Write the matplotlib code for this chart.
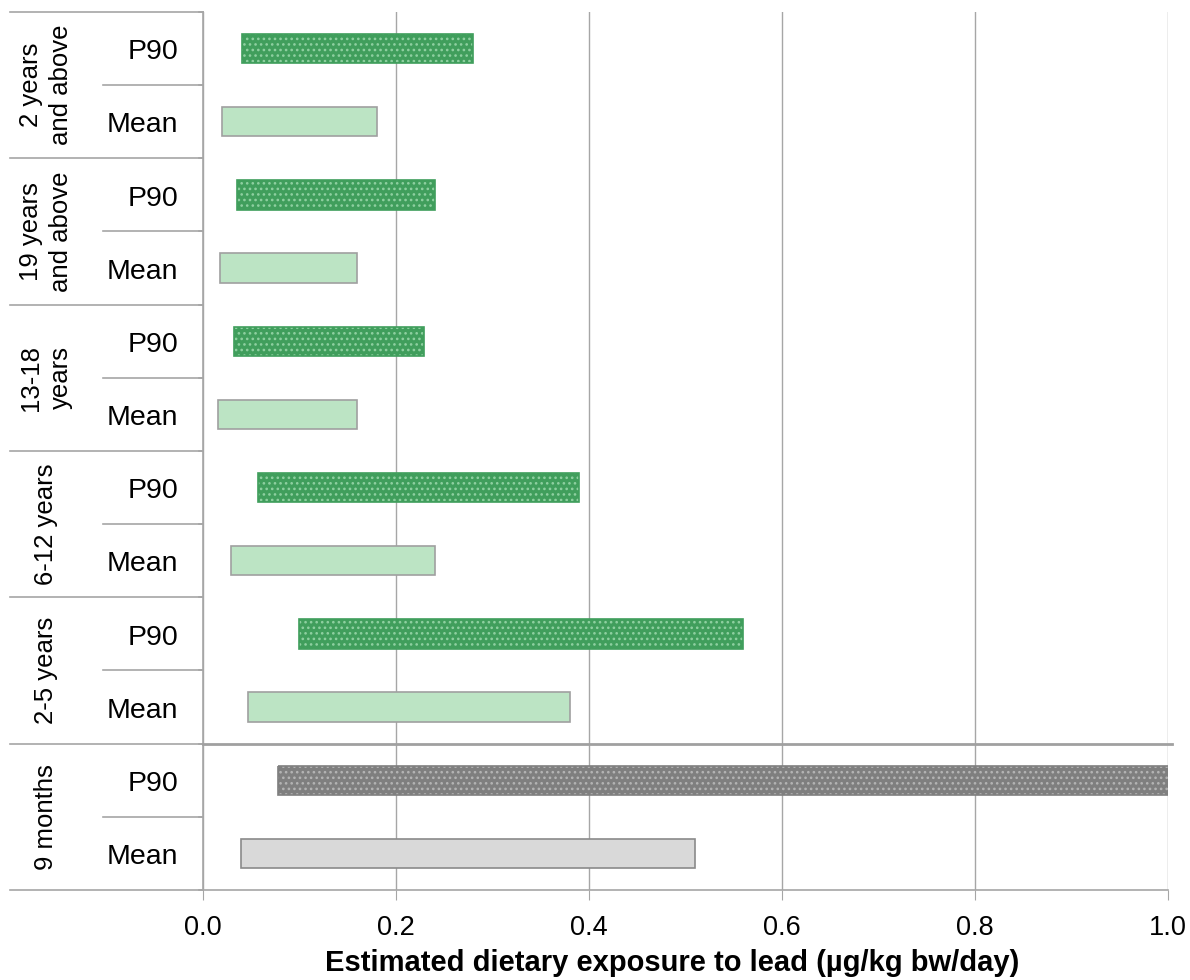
import matplotlib
matplotlib.use("Agg")
import matplotlib.pyplot as plt
from matplotlib import font_manager as fm
import matplotlib.transforms as mtransforms

# ---- data ----
groups = ["2 years\nand above", "19 years\nand above", "13-18\nyears",
          "6-12 years", "2-5 years", "9 months"]
stats = ["P90", "Mean"]
p90_low = [0.040, 0.035, 0.032, 0.057, 0.099, 0.078]
p90_high = [0.280, 0.240, 0.229, 0.390, 0.560, 1.050]
mean_low = [0.020, 0.018, 0.016, 0.029, 0.047, 0.039]
mean_high = [0.180, 0.160, 0.160, 0.240, 0.380, 0.510]
x_ticks = [0.0, 0.2, 0.4, 0.6, 0.8, 1.0]
x_label = "Estimated dietary exposure to lead (\u00b5g/kg bw/day)"

names = {f.name for f in fm.fontManager.ttflist}
base = "Liberation Sans" if "Liberation Sans" in names else "DejaVu Sans"
plt.rcParams["font.family"] = [base, "DejaVu Sans"]
plt.rcParams["hatch.linewidth"] = 1.1

fig = plt.figure(figsize=(11.9, 9.8), dpi=100)
ax = fig.add_axes([203/1190, 1-890/980, (1168-203)/1190, (890-12)/980])

n = len(groups) * 2
ax.set_ylim(n, 0)
ax.set_xlim(0, 1.0)

green_dark = "#409e5c"
green_light = "#bce4c4"
gray_dark = "#7f7f7f"
gray_light = "#d9d9d9"

h = 0.40
for gi, g in enumerate(groups):
    last = gi == len(groups) - 1
    yp = gi * 2 + 0.5
    ym = gi * 2 + 1.5
    fc_p = gray_dark if last else green_dark
    hc_p = "#b4b4b4" if last else "#8fd0a1"
    fc_m = gray_light if last else green_light
    ec_m = "#8a8a8a" if last else "#a0a0a0"
    # P90 bar with dotted hatch
    ax.barh(yp, p90_high[gi] - p90_low[gi], left=p90_low[gi], height=h,
            color=fc_p, edgecolor=hc_p, hatch="...", linewidth=0, zorder=3)
    ax.barh(yp, p90_high[gi] - p90_low[gi], left=p90_low[gi], height=h,
            facecolor="none", edgecolor=fc_p, linewidth=1.2, zorder=4)
    # Mean bar
    ax.barh(ym, mean_high[gi] - mean_low[gi], left=mean_low[gi], height=h,
            color=fc_m, edgecolor=ec_m, linewidth=1.2, zorder=3)

# grid
ax.set_xticks(x_ticks)
ax.set_xticklabels([f"{v:.1f}" for v in x_ticks], fontsize=19.5)
ax.xaxis.grid(True, color="#a6a6a6", linewidth=1.0, zorder=0)
ax.set_axisbelow(True)
ax.tick_params(axis="x", length=7, color="#a6a6a6", pad=11)
ax.set_yticks([])
for s in ["top", "right"]:
    ax.spines[s].set_visible(False)
ax.spines["left"].set_color("#a6a6a6")
ax.spines["bottom"].set_color("#a6a6a6")
ax.spines["left"].set_linewidth(1.2)
ax.spines["bottom"].set_linewidth(1.2)

# separator between 2-5 years and 9 months
ax.plot([0, 1.004], [10, 10], color="#a0a0a0", linewidth=2.0, zorder=5, clip_on=False)

# left hierarchical table
trans = mtransforms.blended_transform_factory(ax.transAxes, ax.transData)
x_outer = (10 - 203) / 965
x_inner = (103 - 203) / 965
line_c = "#a6a6a6"
for k in range(0, n + 1, 2):
    ax.plot([x_outer, 0], [k, k], transform=trans, color=line_c, lw=1.2, clip_on=False)
for k in range(1, n, 2):
    ax.plot([x_inner, 0], [k, k], transform=trans, color=line_c, lw=1.2, clip_on=False)
for k in range(0, n + 1):
    ax.plot([-0.004, 0], [k, k], transform=trans, color=line_c, lw=1.2, clip_on=False)

for gi, g in enumerate(groups):
    ax.text((46 - 203) / 965, gi * 2 + 1, g, transform=trans, rotation=90,
            ha="center", va="center", fontsize=18.5, linespacing=1.35,
            multialignment="center")
    for si, s in enumerate(stats):
        ax.text((178 - 203) / 965, gi * 2 + si + 0.55, s, transform=trans,
                ha="right", va="center", fontsize=20.5)

ax.set_xlabel(x_label, fontsize=21, fontweight="bold", labelpad=6, x=0.486)

fig.savefig("out.png", dpi=100)
